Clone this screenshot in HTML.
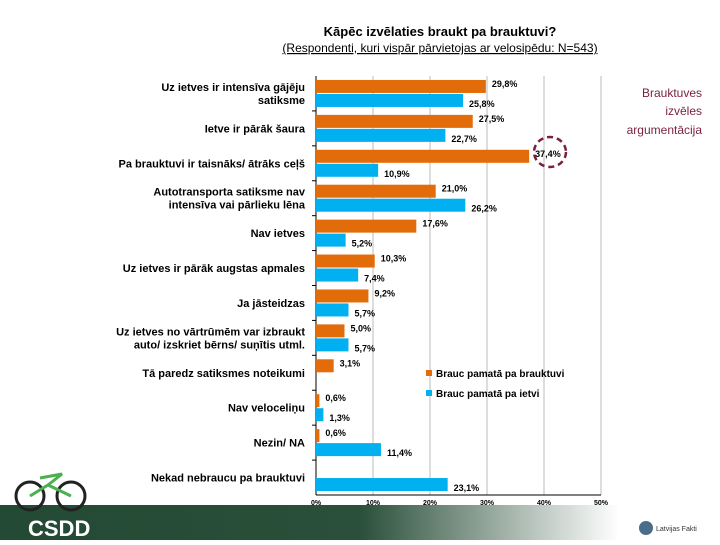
<!DOCTYPE html>
<html><head><meta charset="utf-8"><style>
body{margin:0;width:720px;height:540px;overflow:hidden;background:#fff;font-family:"Liberation Sans",sans-serif;}
</style></head><body>
<svg width="720" height="540" viewBox="0 0 720 540" xmlns="http://www.w3.org/2000/svg">
<defs><linearGradient id="fg" x1="0" x2="1"><stop offset="0" stop-color="#234a34"/><stop offset="0.5" stop-color="#2a4f3a"/><stop offset="0.86" stop-color="#ffffff"/></linearGradient></defs>
<text x="440" y="36" text-anchor="middle" font-size="13" font-weight="bold">Kāpēc izvēlaties braukt pa brauktuvi?</text>
<text x="440" y="52" text-anchor="middle" font-size="12" text-decoration="underline">(Respondenti, kuri vispār pārvietojas ar velosipēdu: N=543)</text>
<g fill="#7a1f3d" font-size="12" text-anchor="end">
<text x="702" y="97">Brauktuves</text><text x="702" y="115">izvēles</text><text x="702" y="134">argumentācija</text></g>
<g id="grid"></g><g id="bars"></g><g id="labels"></g>
<ellipse cx="550" cy="152" rx="16" ry="15" fill="none" stroke="#7a1f3d" stroke-width="2.5" stroke-dasharray="6,4"/>
<g font-size="10" font-weight="bold">
<rect x="426" y="370" width="6" height="6" fill="#e36c0a"/><text x="436" y="377">Brauc pamatā pa brauktuvi</text>
<rect x="426" y="390" width="6" height="6" fill="#00b0f0"/><text x="436" y="397">Brauc pamatā pa ietvi</text></g>
<rect x="0" y="505" width="720" height="35" fill="url(#fg)"/>
<text x="28" y="536" fill="#fff" font-size="22" font-weight="bold">CSDD</text>
<circle cx="646" cy="528" r="7" fill="#4a6d8a"/>
<text x="656" y="531" font-size="7" fill="#333">Latvijas Fakti</text>
<g fill="none" stroke="#222" stroke-width="3"><circle cx="30" cy="496" r="14"/><circle cx="71" cy="496" r="14"/><path d="M30 496 L48 485 L71 496 M40 478 L62 474 L48 485" stroke="#4caf50"/></g>
</svg>
<script>
const categories=[["Uz ietves ir intensīva gājēju","satiksme"],["Ietve ir pārāk šaura"],["Pa brauktuvi ir taisnāks/ ātrāks ceļš"],["Autotransporta satiksme nav","intensīva vai pārlieku lēna"],["Nav ietves"],["Uz ietves ir pārāk augstas apmales"],["Ja jāsteidzas"],["Uz ietves no vārtrūmēm var izbraukt","auto/ izskriet bērns/ suņītis utml."],["Tā paredz satiksmes noteikumi"],["Nav veloceliņu"],["Nezin/ NA"],["Nekad nebraucu pa brauktuvi"]];
const roadValues=[29.8,27.5,37.4,21.0,17.6,10.3,9.2,5.0,3.1,0.6,0.6,null];
const sidewalkValues=[25.8,22.7,10.9,26.2,5.2,7.4,5.7,5.7,null,1.3,11.4,23.1];
const xTicks=[0,10,20,30,40,50];
const NS="http://www.w3.org/2000/svg";
const X0=316,X1=601,Y0=76,Y1=495,band=(Y1-Y0)/categories.length;
const xs=v=>X0+(X1-X0)*v/50;
function mk(t,a,p){const e=document.createElementNS(NS,t);for(const k in a)e.setAttribute(k,a[k]);p.appendChild(e);return e;}
const g=document.getElementById('grid'),b=document.getElementById('bars'),l=document.getElementById('labels');
xTicks.forEach(t=>{const ln=mk('line',{x1:xs(t),x2:xs(t),y1:Y0,y2:Y1,stroke:t===0?'#000':'#bbb','stroke-width':1},g);


const tx=mk('text',{x:xs(t),y:Y1+10,'text-anchor':'middle','font-size':7,'font-weight':'bold'},g);tx.textContent=t+'%';

});
const ax=mk('line',{x1:X0,x2:X1,y1:Y1,y2:Y1,stroke:'#000'},g);


const fmt=v=>v.toFixed(1).replace('.',',')+'%';
categories.forEach((c,i)=>{const top=Y0+i*band,cy=top+band/2;
if(i>0){const tk=mk('line',{x1:X0-4,x2:X0,y1:top,y2:top,stroke:'#000'},g);}
const t=mk('text',{x:305,'text-anchor':'end','font-size':11,'font-weight':'bold'},l);


c.forEach((s,j)=>{const ts=mk('tspan',{x:305,y:cy+4+(j-(c.length-1)/2)*13},t);ts.textContent=s;});
const bh=13,oy=cy-bh-0.5,sy=cy+0.5;
if(roadValues[i]!==null){const r=mk('rect',{x:X0,y:oy,width:xs(roadValues[i])-X0,height:bh,fill:'#e36c0a'},b);


const tx=mk('text',{x:xs(roadValues[i])+6,y:oy+7,'font-size':9,'font-weight':'bold'},l);tx.textContent=fmt(roadValues[i]);

}
if(sidewalkValues[i]!==null){const r=mk('rect',{x:X0,y:sy,width:xs(sidewalkValues[i])-X0,height:bh,fill:'#00b0f0'},b);


const tx=mk('text',{x:xs(sidewalkValues[i])+6,y:sy+13,'font-size':9,'font-weight':'bold'},l);tx.textContent=fmt(sidewalkValues[i]);

}
});
</script>
</body></html>
